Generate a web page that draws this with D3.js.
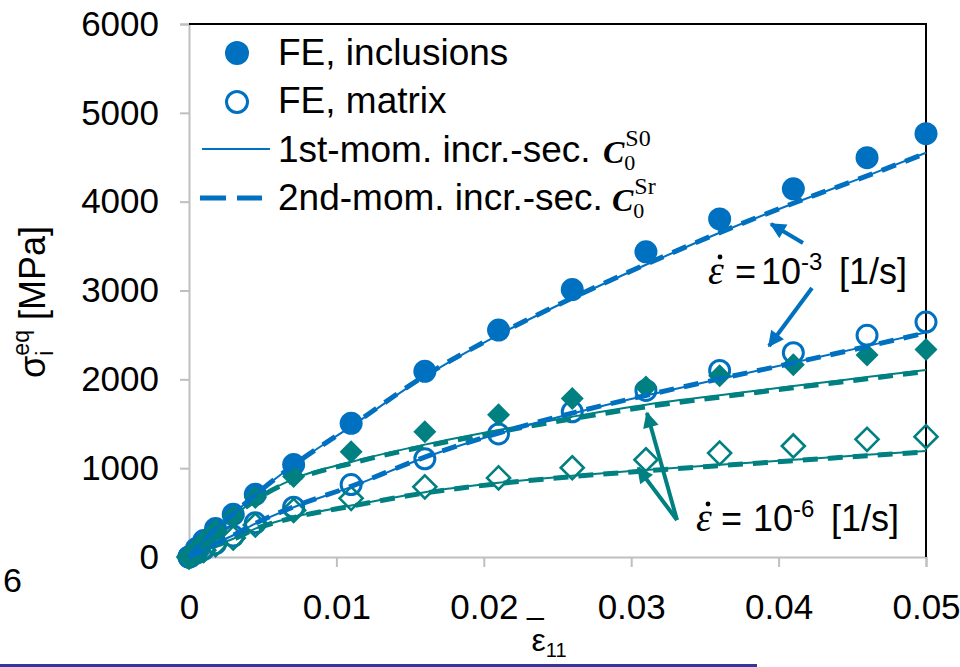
<!DOCTYPE html>
<html><head><meta charset="utf-8">
<script src="https://cdn.jsdelivr.net/npm/d3@7"></script>
<style>
body{margin:0;background:#fff}
svg{display:block}
text{font-family:Arial,"Liberation Sans",sans-serif;fill:#000}
</style>
</head><body>
<svg id="c" width="960" height="667"></svg>
<script>
// ---- data ----
const strain = [0, 0.0005, 0.001, 0.0018, 0.003, 0.0045, 0.0071, 0.011, 0.016, 0.021, 0.026, 0.031, 0.036, 0.041, 0.046, 0.05];
// FE results (markers)
const feIncl3 = [0, 95, 185, 320, 480, 705, 1040, 1505, 2090, 2555, 3010, 3435, 3805, 4145, 4495, 4765];
const feMat3  = [0, 45, 85, 150, 235, 385, 560, 815, 1105, 1385, 1635, 1875, 2100, 2300, 2495, 2645];
const feIncl6 = [0, 90, 175, 300, 455, 670, 905, 1185, 1410, 1600, 1785, 1915, 2040, 2165, 2275, 2335];
const feMat6  = [0, 40, 75, 140, 215, 360, 525, 660, 790, 890, 1005, 1095, 1170, 1250, 1325, 1355];
// 1st-moment incremental-secant model (thin solid)
const m1Incl3 = [0, 92, 182, 315, 485, 700, 1035, 1470, 2030, 2500, 2910, 3290, 3650, 3980, 4290, 4550];
const m1Mat3  = [0, 42, 85, 150, 245, 375, 560, 790, 1120, 1390, 1615, 1818, 2003, 2188, 2374, 2530];
const m1Incl6 = [0, 90, 175, 300, 455, 650, 880, 1070, 1265, 1430, 1580, 1715, 1820, 1925, 2025, 2105];
const m1Mat6  = [0, 38, 72, 130, 205, 320, 450, 580, 730, 835, 915, 980, 1038, 1094, 1150, 1193];
// 2nd-moment incremental-secant model (thick dashed)
const m2Incl3 = [0, 92, 182, 315, 485, 700, 1035, 1475, 2040, 2505, 2915, 3295, 3652, 3982, 4290, 4545];
const m2Mat3  = [0, 42, 85, 150, 245, 378, 565, 795, 1125, 1395, 1620, 1820, 2005, 2185, 2370, 2525];
const m2Incl6 = [0, 88, 170, 295, 448, 640, 865, 1055, 1245, 1408, 1557, 1690, 1800, 1905, 2005, 2090];
const m2Mat6  = [0, 36, 70, 127, 200, 315, 443, 572, 720, 826, 905, 970, 1028, 1084, 1140, 1183];
// axes
const xTicks = [0, 0.01, 0.02, 0.03, 0.04, 0.05];
const xTickLabels = ["0", "0.01", "0.02", "0.03", "0.04", "0.05"];
const yTicks = [0, 1000, 2000, 3000, 4000, 5000, 6000];
const yTickLabels = ["0", "1000", "2000", "3000", "4000", "5000", "6000"];
const legendLabels = ["FE, inclusions", "FE, matrix", "1st-mom. incr.-sec.", "2nd-mom. incr.-sec."];

const BLUE = "#0070C0", TEAL = "#008080";
const SERIF = "'Liberation Serif','Times New Roman',serif";

const svg = d3.select("#c");
const x = d3.scaleLinear().domain([0, 0.05]).range([189, 926]);
const y = d3.scaleLinear().domain([0, 6000]).range([557, 24]);

// arrow markers
const defs = svg.append("defs");
[["ah-blue", BLUE], ["ah-teal", TEAL]].forEach(([id, col]) => {
  defs.append("marker").attr("id", id).attr("viewBox", "0 0 10 10")
    .attr("refX", 9).attr("refY", 5).attr("markerWidth", 18).attr("markerHeight", 16)
    .attr("markerUnits", "userSpaceOnUse").attr("orient", "auto")
    .append("path").attr("d", "M0,0 L10,5 L0,10 Z").attr("fill", col);
});

// axes
const yAxis = svg.append("g").attr("transform", "translate(189,0)")
  .call(d3.axisLeft(y).tickValues(yTicks).tickSize(9).tickPadding(21)
    .tickFormat((d, i) => yTickLabels[i]));
const xAxis = svg.append("g").attr("transform", "translate(0,557)")
  .call(d3.axisBottom(x).tickValues(xTicks).tickSize(10).tickPadding(27)
    .tickFormat((d, i) => xTickLabels[i]));
[yAxis, xAxis].forEach(g => {
  g.select(".domain").attr("stroke", "#BFBFBF").attr("stroke-width", 2);
  g.selectAll(".tick line").attr("stroke", "#BFBFBF").attr("stroke-width", 2);
  g.selectAll(".tick text").attr("font-size", 35).attr("fill", "#000")
    .style("font-family", "Arial, 'Liberation Sans', sans-serif");
});
// top / right frame
svg.append("path").attr("d", `M${x(0)},${y(6000)}H${x(0.05)}V${y(0)}`)
  .attr("fill", "none").attr("stroke", "#000").attr("stroke-width", 2);

const idx = d3.range(strain.length);
const g = svg.append("g");

function circles(vals, filled) {
  g.append("g").selectAll("circle").data(idx).join("circle")
    .attr("cx", i => x(strain[i])).attr("cy", i => y(vals[i]))
    .attr("r", filled ? 11.5 : 10)
    .attr("fill", filled ? BLUE : "none")
    .attr("stroke", filled ? "none" : BLUE).attr("stroke-width", 3);
}
function diamonds(vals, filled) {
  const s = 11.5;
  g.append("g").selectAll("path").data(idx).join("path")
    .attr("d", i => { const cx = x(strain[i]), cy = y(vals[i]);
      return `M${cx},${cy - s}L${cx + s},${cy}L${cx},${cy + s}L${cx - s},${cy}Z`; })
    .attr("fill", filled ? TEAL : "none")
    .attr("stroke", filled ? "none" : TEAL).attr("stroke-width", 2.6);
}
circles(feIncl3, true);
circles(feMat3, false);
diamonds(feIncl6, true);
diamonds(feMat6, false);

const line = vals => d3.line().x(i => x(strain[i])).y(i => y(vals[i])).curve(d3.curveMonotoneX)(idx);
function curve(vals, col, dashed) {
  g.append("path").attr("d", line(vals)).attr("fill", "none").attr("stroke", col)
    .attr("stroke-width", dashed ? 5 : 2)
    .attr("stroke-dasharray", dashed ? "15,10" : null);
}
curve(m2Mat6, TEAL, true);  curve(m1Mat6, TEAL, false);
curve(m2Incl6, TEAL, true); curve(m1Incl6, TEAL, false);
curve(m2Mat3, BLUE, true);  curve(m1Mat3, BLUE, false);
curve(m2Incl3, BLUE, true); curve(m1Incl3, BLUE, false);

// legend
const lg = svg.append("g");
lg.append("circle").attr("cx", 237).attr("cy", 53).attr("r", 12).attr("fill", BLUE);
lg.append("circle").attr("cx", 237).attr("cy", 102).attr("r", 10.5).attr("fill", "none").attr("stroke", BLUE).attr("stroke-width", 3);
lg.append("line").attr("x1", 202).attr("x2", 270).attr("y1", 149).attr("y2", 149).attr("stroke", BLUE).attr("stroke-width", 2);
lg.append("line").attr("x1", 200).attr("x2", 262).attr("y1", 198).attr("y2", 198).attr("stroke", BLUE).attr("stroke-width", 5).attr("stroke-dasharray", "26,11");
const lgY = [65, 113, 162, 210];
legendLabels.forEach((t, i) => lg.append("text").attr("x", 278).attr("y", lgY[i]).attr("font-size", 37).text(t));
function cSym(xc, yb, sup) {
  const t = lg.append("text").attr("x", xc).attr("y", yb).style("font-family", SERIF);
  t.append("tspan").attr("font-size", 32).attr("font-weight", "bold").attr("font-style", "italic").text("C");
  t.append("tspan").attr("font-size", 22).attr("dy", 7).text("0");
  t.append("tspan").attr("font-size", 24).attr("dx", -10).attr("dy", -24).text(sup);
}
cSym(603, 163, "S0");
cSym(612, 211, "Sr");

// annotations
function rateLabel(p, yb, exp) {
  svg.append("circle").attr("cx", p[0] + 12).attr("cy", yb - 27).attr("r", 2.4).attr("fill", "#000");
  svg.append("text").attr("x", p[0]).attr("y", yb).attr("font-size", 40)
    .style("font-family", SERIF).attr("font-style", "italic").text("\u03B5");
  svg.append("text").attr("x", p[1]).attr("y", yb).attr("font-size", 36).text("=");
  const t = svg.append("text").attr("x", p[2]).attr("y", yb).attr("font-size", 36);
  t.append("tspan").text("10");
  t.append("tspan").attr("font-size", 24).attr("dy", -14).text(exp);
  svg.append("text").attr("x", p[3]).attr("y", yb).attr("font-size", 36).text("[1/s]");
}
rateLabel([708, 735, 761, 839], 284, "-3");
rateLabel([696, 721, 753, 831], 531, "-6");
function arrow(x1, y1, x2, y2, col, id) {
  svg.append("line").attr("x1", x1).attr("y1", y1).attr("x2", x2).attr("y2", y2)
    .attr("stroke", col).attr("stroke-width", 4).attr("marker-end", `url(#${id})`);
}
arrow(803, 243, 771, 224, BLUE, "ah-blue");
arrow(812, 288, 769, 346, BLUE, "ah-blue");
arrow(677, 520, 647, 413, TEAL, "ah-teal");
arrow(677, 520, 638, 468, TEAL, "ah-teal");

// axis titles
const yt = svg.append("text").attr("transform", "translate(45,302) rotate(-90)")
  .attr("text-anchor", "middle").attr("font-size", 36);
yt.append("tspan").text("\u03C3");
yt.append("tspan").attr("font-size", 23).attr("dy", 8).text("i");
yt.append("tspan").attr("font-size", 23).attr("dx", -5).attr("dy", -24).text("eq");
yt.append("tspan").attr("dy", 16).text(" [MPa]");
const xt = svg.append("text").attr("x", 549).attr("y", 651).attr("text-anchor", "middle").attr("font-size", 32);
xt.append("tspan").text("\u03B5");
xt.append("tspan").attr("font-size", 20).attr("dy", 6).text("11");

// stray marks
svg.append("text").attr("x", 527).attr("y", 614).attr("font-size", 30).text("_");
svg.append("text").attr("x", 3).attr("y", 592).attr("font-size", 34).text("6");
svg.append("rect").attr("x", 0).attr("y", 664).attr("width", 757).attr("height", 3).attr("fill", "#35359B");
</script>
</body></html>
